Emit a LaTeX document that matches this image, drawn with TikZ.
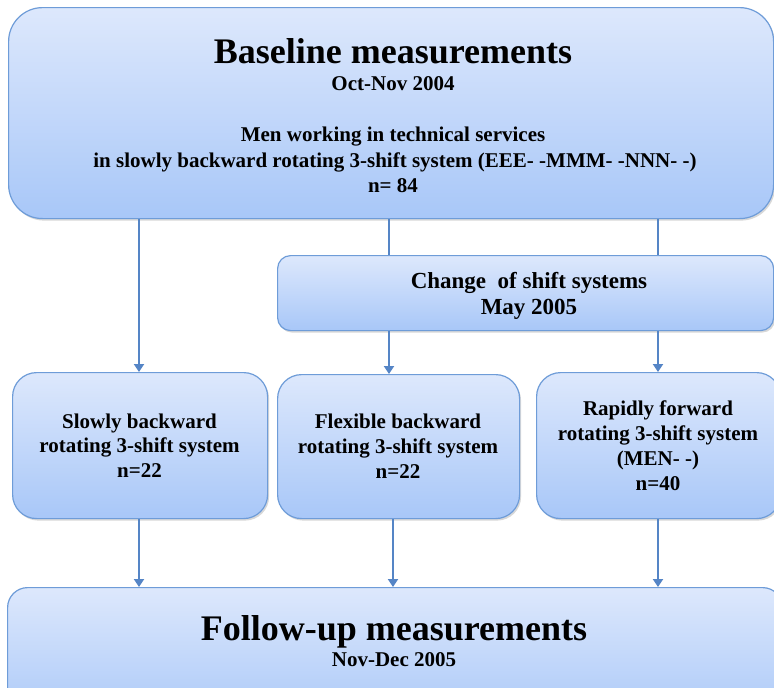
\documentclass[tikz,border=0pt]{standalone}
\usepackage{fontspec}
\setmainfont{Liberation Serif}
\usetikzlibrary{arrows.meta,shadows}
\definecolor{boxtop}{HTML}{DDE8FC}
\definecolor{boxbot}{HTML}{A8C7F8}
\definecolor{boxline}{HTML}{6E9CD8}
\definecolor{arrline}{HTML}{5585C6}
\tikzset{
  box/.style={draw=boxline, line width=1.2pt, top color=boxtop, bottom color=boxbot,
    anchor=north west, inner sep=0pt,
    drop shadow={shadow xshift=1.5pt, shadow yshift=-2pt, opacity=0.25, fill=black!60}},
  big/.style={font=\bfseries\fontsize{36}{40}\selectfont, anchor=base, inner sep=0pt},
  small/.style={font=\bfseries\fontsize{21}{25}\selectfont, anchor=base, inner sep=0pt},
  mid/.style={font=\bfseries\fontsize{23}{27}\selectfont, anchor=base, inner sep=0pt},
  conn/.style={draw=arrline, line width=2pt},
  arr/.style={conn, -{Triangle[width=10pt,length=8pt]}}
}
\begin{document}
\begin{tikzpicture}[x=1pt,y=-1pt]
\clip (0,0) rectangle (774,688);
\fill[white] (0,0) rectangle (774,688);
% boxes
\node[box, rounded corners=34pt, minimum width=765pt, minimum height=211pt] (top) at (8,7) {};
\node[box, rounded corners=13pt, minimum width=496pt, minimum height=75pt] (change) at (277,255) {};
\node[box, rounded corners=24pt, minimum width=255pt, minimum height=146pt] (b1) at (12,372) {};
\node[box, rounded corners=24pt, minimum width=242pt, minimum height=144pt] (b2) at (277,374) {};
\node[box, rounded corners=24pt, minimum width=244pt, minimum height=146pt] (b3) at (536,372) {};
\node[box, rounded corners=20pt, minimum width=775pt, minimum height=140pt] (bot) at (7,587) {};
% texts
\node[big] (t1) at (393,63) {Baseline measurements};
\node[small] (t2) at (393,90) {Oct-Nov 2004};
\node[small] (t3) at (393,141) {Men working in technical services};
\node[small] (t4) at (395,167) {in slowly backward rotating 3-shift system (EEE- -MMM- -NNN- -)};
\node[small] (t5) at (393,192) {n= 84};
\node[mid] (c1) at (529,288) {Change\ \ of shift\ systems};
\node[mid] (c2) at (529,314) {May 2005};
\node[small] (s1) at (139.5,428) {Slowly backward};
\node[small] (s2) at (139.5,452) {rotating 3-shift system};
\node[small] (s3) at (139.5,477) {n=22};
\node[small] (f1) at (398,428) {Flexible backward};
\node[small] (f2) at (398,453) {rotating 3-shift system};
\node[small] (f3) at (398,478) {n=22};
\node[small] (r1) at (658,415) {Rapidly forward};
\node[small] (r2) at (658,440) {rotating 3-shift system};
\node[small] (r3) at (658,465) {(MEN- -)};
\node[small] (r4) at (658,490) {n=40};
\node[big] (u1) at (394,640) {Follow-up measurements};
\node[small] (u2) at (394,666) {Nov-Dec 2005};
% connector x positions
\coordinate (xa) at (139,0);
\coordinate (xb) at (389,0);
\coordinate (xc) at (393,0);
\coordinate (xd) at (658,0);
% connectors
\draw[arr] (xa |- top.south) -- (xa |- b1.north);
\draw[conn] (xb |- top.south) -- (xb |- change.north);
\draw[conn] (xd |- top.south) -- (xd |- change.north);
\draw[arr] (xb |- change.south) -- (xb |- b2.north);
\draw[arr] (xd |- change.south) -- (xd |- b3.north);
\draw[arr] (xa |- b1.south) -- (xa |- bot.north);
\draw[arr] (xc |- b2.south) -- (xc |- bot.north);
\draw[arr] (xd |- b3.south) -- (xd |- bot.north);
\end{tikzpicture}
\end{document}
